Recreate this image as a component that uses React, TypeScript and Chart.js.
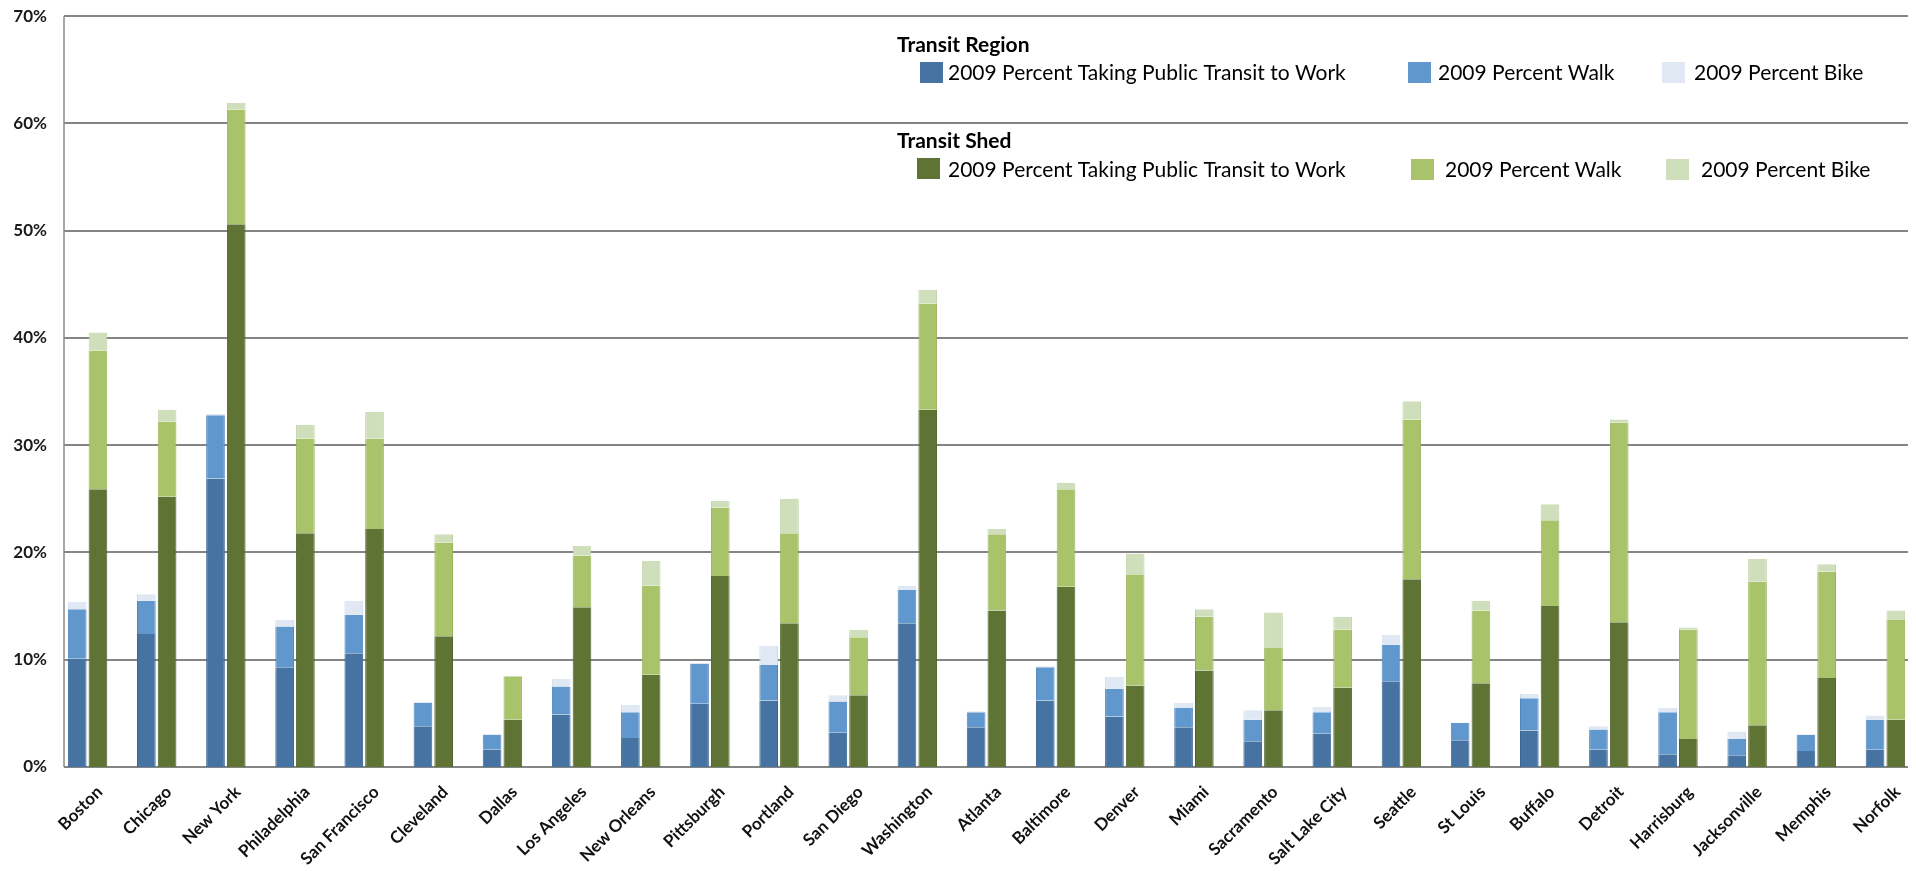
import React, { useEffect, useRef } from "react";
import { Chart, registerables } from "chart.js";

Chart.register(...registerables);

const cities = [
  "Boston", "Chicago", "New York", "Philadelphia", "San Francisco", "Cleveland",
  "Dallas", "Los Angeles", "New Orleans", "Pittsburgh", "Portland", "San Diego",
  "Washington", "Atlanta", "Baltimore", "Denver", "Miami", "Sacramento",
  "Salt Lake City", "Seattle", "St Louis", "Buffalo", "Detroit", "Harrisburg",
  "Jacksonville", "Memphis", "Norfolk",
];

// Transit Region (segment heights, %)
const regionTransit = [10.1, 12.4, 26.9, 9.3, 10.6, 3.8, 1.6, 4.9, 2.7, 5.9, 6.2, 3.2, 13.4, 3.7, 6.2, 4.7, 3.7, 2.4, 3.1, 8.0, 2.5, 3.4, 1.6, 1.2, 1.1, 1.5, 1.6];
const regionWalk = [4.6, 3.1, 5.9, 3.8, 3.6, 2.2, 1.4, 2.6, 2.4, 3.7, 3.3, 2.9, 3.1, 1.4, 3.1, 2.6, 1.8, 2.0, 2.0, 3.4, 1.6, 3.0, 1.9, 3.9, 1.5, 1.5, 2.8];
const regionBike = [0.7, 0.6, 0.1, 0.6, 1.3, 0.1, 0.1, 0.7, 0.7, 0.1, 1.8, 0.6, 0.4, 0.1, 0.1, 1.1, 0.5, 0.9, 0.5, 0.9, 0.05, 0.4, 0.3, 0.4, 0.7, 0.05, 0.4];

// Transit Shed (segment heights, %)
const shedTransit = [25.9, 25.2, 50.6, 21.8, 22.2, 12.2, 4.4, 14.9, 8.6, 17.8, 13.4, 6.7, 33.3, 14.6, 16.8, 7.6, 9.0, 5.3, 7.4, 17.5, 7.8, 15.0, 13.5, 2.6, 3.9, 8.3, 4.4];
const shedWalk = [12.9, 7.0, 10.7, 8.8, 8.4, 8.7, 4.0, 4.8, 8.3, 6.4, 8.4, 5.4, 9.9, 7.1, 9.1, 10.3, 5.0, 5.8, 5.4, 14.9, 6.8, 8.0, 18.6, 10.2, 13.4, 9.9, 9.3];
const shedBike = [1.7, 1.1, 0.6, 1.3, 2.5, 0.8, 0.1, 0.9, 2.3, 0.6, 3.2, 0.7, 1.3, 0.5, 0.6, 2.0, 0.7, 3.3, 1.2, 1.7, 0.9, 1.5, 0.3, 0.2, 2.1, 0.7, 0.9];

const yTickValues = [0, 10, 20, 30, 40, 50, 60, 70];

const seriesLabels = [
  "2009 Percent Taking Public Transit to Work",
  "2009 Percent Walk",
  "2009 Percent Bike",
];
const groupTitles = ["Transit Region", "Transit Shed"];

const regionColors = ["#4673A1", "#6097CC", "#DFE8F3"];
const regionBorders = ["#3B6591", "#5086BE", "#CFDBEA"];
const shedColors = ["#5E7334", "#A9C36A", "#D0DFBB"];
const shedBorders = ["#4E6229", "#98B259", "#C0D1A9"];

const FONT = "Lato, 'Open Sans', sans-serif";

// gridlines are inset from the category band edges, as in the original
const GRID_INSET_LEFT = 11;
const GRID_INSET_RIGHT = 12;

const gridPlugin = {
  id: "insetGrid",
  beforeDatasetsDraw(chart: any) {
    const ctx = chart.ctx as CanvasRenderingContext2D;
    const y = chart.scales.y;
    const area = chart.chartArea;
    const left = area.left + GRID_INSET_LEFT;
    const right = area.right - GRID_INSET_RIGHT;
    ctx.save();
    ctx.strokeStyle = "#858585";
    ctx.lineWidth = 2;
    yTickValues.forEach((v) => {
      const py = Math.round(y.getPixelForValue(v));
      ctx.beginPath();
      ctx.moveTo(left, py);
      ctx.lineTo(right, py);
      ctx.stroke();
    });
    ctx.strokeStyle = "#8a8a8a";
    ctx.lineWidth = 1.5;
    ctx.beginPath();
    ctx.moveTo(left, y.getPixelForValue(yTickValues[yTickValues.length - 1]));
    ctx.lineTo(left, y.getPixelForValue(0));
    ctx.stroke();
    ctx.restore();
  },
};

const legendPlugin = {
  id: "twoGroupLegend",
  afterDraw(chart: any) {
    const ctx = chart.ctx as CanvasRenderingContext2D;
    ctx.save();
    ctx.textBaseline = "alphabetic";
    ctx.textAlign = "left";
    ctx.fillStyle = "#000";
    ctx.font = `bold 21px ${FONT}`;
    ctx.fillText(groupTitles[0], 897, 52, 160);
    ctx.fillText(groupTitles[1], 897, 148, 139);

    const rows = [
      {
        colors: regionColors,
        sw: [[920, 62], [1408, 62], [1662, 62]],
        tx: [[948, 80, 415], [1438, 80, 182], [1694, 80, 175]],
      },
      {
        colors: shedColors,
        sw: [[917, 158], [1411, 159], [1666, 159]],
        tx: [[948, 177, 415], [1445, 177, 181], [1701, 177, 175]],
      },
    ];
    ctx.font = `21px ${FONT}`;
    rows.forEach((row) => {
      for (let i = 0; i < 3; i++) {
        ctx.fillStyle = row.colors[i];
        ctx.fillRect(row.sw[i][0], row.sw[i][1], 23, 21);
        ctx.fillStyle = "#000";
        ctx.fillText(seriesLabels[i], row.tx[i][0], row.tx[i][1], row.tx[i][2]);
      }
    });
    ctx.restore();
  },
};

export default function App() {
  const canvasRef = useRef<HTMLCanvasElement | null>(null);

  useEffect(() => {
    document.body.style.margin = "0";
    const canvas = canvasRef.current;
    if (!canvas) return;

    const regionData = [regionTransit, regionWalk, regionBike];
    const shedData = [shedTransit, shedWalk, shedBike];
    const datasets: any[] = [];
    regionData.forEach((vals, i) => {
      datasets.push({
        label: "Region " + seriesLabels[i],
        data: vals,
        stack: "region",
        backgroundColor: regionColors[i],
        borderColor: regionBorders[i],
        borderWidth: { left: 1, right: 1, top: 0, bottom: 0 },
        borderSkipped: false,
        categoryPercentage: 0.6,
        barPercentage: 0.9,
      });
    });
    shedData.forEach((vals, i) => {
      datasets.push({
        label: "Shed " + seriesLabels[i],
        data: vals,
        stack: "shed",
        backgroundColor: shedColors[i],
        borderColor: shedBorders[i],
        borderWidth: { left: 1, right: 1, top: 0, bottom: 0 },
        borderSkipped: false,
        categoryPercentage: 0.6,
        barPercentage: 0.9,
      });
    });

    const chart = new Chart(canvas, {
      type: "bar",
      data: { labels: cities, datasets },
      plugins: [gridPlugin, legendPlugin],
      options: {
        animation: false,
        responsive: true,
        maintainAspectRatio: false,
        layout: { padding: { top: 15, right: 8, left: 0, bottom: 0 } },
        plugins: {
          legend: { display: false },
          tooltip: { enabled: false },
        },
        scales: {
          x: {
            grid: { display: false, drawTicks: false, tickLength: 0 },
            border: { display: false },
            ticks: {
              autoSkip: false,
              maxRotation: 45,
              minRotation: 45,
              padding: 15,
              labelOffset: 12,
              color: "#111",
              font: { family: FONT, size: 17, weight: "bold" },
            },
            afterFit: (s: any) => {
              s.height = 104;
            },
          },
          y: {
            stacked: true,
            min: 0,
            max: 70,
            grid: { display: false, drawTicks: false, tickLength: 0 },
            border: { display: false },
            afterBuildTicks: (s: any) => {
              s.ticks = yTickValues.map((v) => ({ value: v }));
            },
            ticks: {
              padding: 6,
              color: "#1a1a1a",
              font: { family: FONT, size: 17, weight: "bold" },
              callback: (v: any) => v + "%",
            },
            afterFit: (s: any) => {
              s.width = 53;
            },
          },
        },
      } as any,
    });
    return () => chart.destroy();
  }, []);

  return (
    <div style={{ width: "1916px", height: "871px", overflow: "hidden", background: "#fff" }}>
      <div style={{ width: "1928px", height: "871px", position: "relative" }}>
        <canvas ref={canvasRef} />
      </div>
    </div>
  );
}
